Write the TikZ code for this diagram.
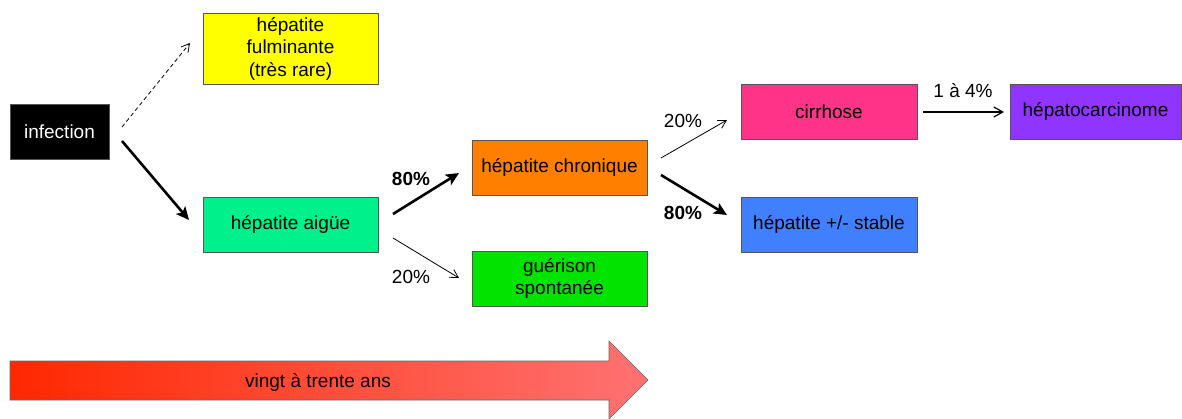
\documentclass[tikz,border=0pt]{standalone}
\usepackage{fontspec}
\setmainfont{Liberation Sans}
\usetikzlibrary{arrows.meta}
\definecolor{cyel}{HTML}{FFFF00}
\definecolor{cmint}{HTML}{00F08C}
\definecolor{corange}{HTML}{FF7F00}
\definecolor{cgreen}{HTML}{00E400}
\definecolor{cpink}{HTML}{FF3388}
\definecolor{cblue}{HTML}{4080FF}
\definecolor{cpurple}{HTML}{9035FF}
\definecolor{cbord}{HTML}{555555}
\definecolor{redA}{HTML}{FF2800}
\definecolor{redB}{HTML}{FF7272}
\begin{document}
\begin{tikzpicture}[x=1pt,y=-1pt,
  box/.style={draw=cbord,line width=0.9pt,minimum height=55pt,minimum width=175pt,inner sep=0pt,align=center,
    font=\fontsize{19}{22.5}\selectfont},
  lbl/.style={font=\fontsize{19}{22.5}\selectfont},
  thinarr/.style={line width=0.8pt,-{Straight Barb[length=8pt,width=9pt,line width=0.8pt]}},
  thickarr/.style={line width=2.6pt,-{Stealth[length=13pt,width=12pt,inset=3pt]}},
  medarr/.style={line width=1.6pt,-{Straight Barb[length=9pt,width=10pt,line width=1.2pt]}}]
\useasboundingbox (0,0) rectangle (1182,419);
\node[box,fill=black,text=white,minimum width=99pt] (inf) at (59.5,131.5) {\raisebox{-1.5pt}{infection}};
\node[box,fill=cyel,minimum height=71pt] (ful) at (290.5,48.5) {hépatite\\fulminante\\(très rare)};
\node[box,fill=cmint] (aig) at (290.5,224.5) {\raisebox{-1.5pt}{hépatite aigüe}};
\node[box,fill=corange] (chr) at (559.5,167.5) {\raisebox{-1pt}{hépatite chronique}};
\node[box,fill=cgreen] (gue) at (559.5,278.5) {guérison\\spontanée};
\node[box,fill=cpink,minimum width=176pt] (cir) at (829,111.5) {\raisebox{-1.5pt}{cirrhose}};
\node[box,fill=cblue,minimum width=176pt] (sta) at (829,224.5) {\raisebox{-1.5pt}{hépatite +/- stable}};
\node[box,fill=cpurple,minimum width=171pt] (car) at (1095.5,111.5) {\raisebox{-1.5pt}{hépatocarcinome}};

\coordinate (a1) at (122,127); \coordinate (b1) at (190,43);
\coordinate (a2) at (122,141); \coordinate (b2) at (189,220);
\coordinate (a3) at (393,214); \coordinate (b3) at (459,173);
\coordinate (a4) at (393,238); \coordinate (b4) at (459,278);
\coordinate (a5) at (661,158); \coordinate (b5) at (727,120);
\coordinate (a6) at (661,175); \coordinate (b6) at (727,215);
\coordinate (a7) at (923,112); \coordinate (b7) at (1004,112);

\draw[thinarr,dashed,dash pattern=on 4pt off 3pt] (a1) -- (b1);
\draw[thickarr] (a2) -- (b2);
\draw[thickarr] (a3) -- (b3);
\draw[thinarr] (a4) -- (b4);
\draw[thinarr] (a5) -- (b5);
\draw[thickarr] (a6) -- (b6);
\draw[medarr] (a7) -- (b7);

\node[lbl,font=\fontsize{19}{22.5}\selectfont\bfseries] (l1) at (411,179) {80\%};
\node[lbl] (l2) at (411,277) {20\%};
\node[lbl] (l3) at (683,121) {20\%};
\node[lbl,font=\fontsize{19}{22.5}\selectfont\bfseries] (l4) at (683,213) {80\%};
\node[lbl] (l5) at (963,91) {1 à 4\%};

\shade[left color=redA,right color=redB,draw=black!60,line width=0.6pt]
  (10,361) -- (609,361) -- (609,341) -- (648,380) -- (609,419) -- (609,400) -- (10,400) -- cycle;
\node[lbl] (ans) at (318,382) {vingt à trente ans};
\end{tikzpicture}
\end{document}
